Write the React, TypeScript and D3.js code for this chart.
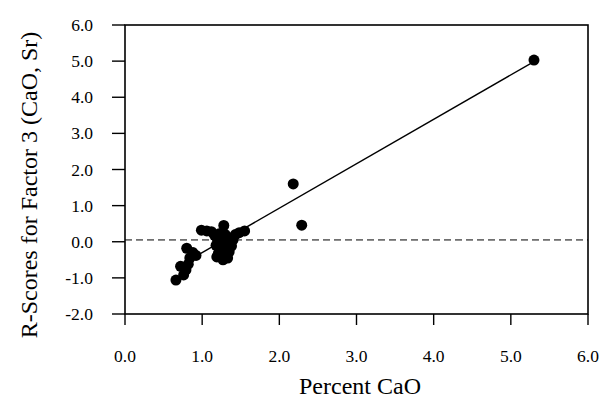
import React from "react";
import * as d3 from "d3";

const xTicks = [0, 1, 2, 3, 4, 5, 6];
const yTicks = [-2, -1, 0, 1, 2, 3, 4, 5, 6];
const cao = [
  5.3, 2.18, 2.29,
  0.66, 0.72, 0.76, 0.79, 0.82, 0.80, 0.84, 0.88, 0.92,
  0.99, 1.06, 1.12, 1.16, 1.18, 1.2, 1.21, 1.22, 1.24, 1.25, 1.26, 1.28, 1.29,
  1.3, 1.31, 1.33, 1.35, 1.36, 1.38, 1.4, 1.43, 1.48, 1.55, 1.27, 1.19, 1.34,
];
const rScore = [
  5.03, 1.6, 0.46,
  -1.06, -0.68, -0.92, -0.78, -0.62, -0.18, -0.45, -0.3, -0.38,
  0.32, 0.3, 0.28, 0.18, -0.1, 0.05, -0.32, 0.22, -0.22, 0.1, -0.05, 0.45, -0.38,
  0.2, -0.15, -0.45, -0.28, 0.0, -0.12, 0.05, 0.2, 0.25, 0.3, -0.5, -0.42, 0.1,
];
const fitIntercept = -1.53;
const fitSlope = 1.23;
const fitRange = [0.85, 5.3];
const refLevel = 0.05;

export default function App() {
  const W = 603, H = 402;
  const x = d3.scaleLinear().domain([0, 6]).range([125, 588]);
  const y = d3.scaleLinear().domain([-2, 6]).range([314, 25]);
  const font = "'Liberation Serif', 'Times New Roman', serif";
  const pts = cao.map((c, i) => [c, rScore[i]]);
  const line = d3.line<number>().x((d) => x(d)).y((d) => y(fitIntercept + fitSlope * d));
  return (
    <svg width={W} height={H} style={{ position: "absolute", left: 0, top: 0, background: "#fff" }}>
      <rect x={0} y={0} width={W} height={H} fill="#fff" />
      <rect x={x(0)} y={y(6)} width={x(6) - x(0)} height={y(-2) - y(6)} fill="none" stroke="#000" strokeWidth={1.6} />
      {yTicks.map((t) => (
        <g key={"y" + t}>
          <line x1={x(0) - 13} x2={x(0)} y1={y(t)} y2={y(t)} stroke="#000" strokeWidth={1.4} />
          <text x={93} y={y(t) + 6} textAnchor="end" fontFamily={font} fontSize={17.5}>{t.toFixed(1)}</text>
        </g>
      ))}
      {xTicks.map((t) => (
        <g key={"x" + t}>
          <line x1={x(t)} x2={x(t)} y1={y(-2)} y2={y(-2) + 11} stroke="#000" strokeWidth={1.4} />
          <text x={x(t)} y={362} textAnchor="middle" fontFamily={font} fontSize={17.5}>{t.toFixed(1)}</text>
        </g>
      ))}
      <line x1={x(0)} x2={x(6)} y1={y(refLevel)} y2={y(refLevel)} stroke="#000" strokeWidth={1} strokeDasharray="7,4" />
      <path d={line(fitRange) || ""} stroke="#000" strokeWidth={1.4} fill="none" />
      {pts.map((p, i) => (
        <circle key={i} cx={x(p[0])} cy={y(p[1])} r={5.5} fill="#000" />
      ))}
      <text x={360} y={394} textAnchor="middle" fontFamily={font} fontSize={24}>Percent CaO</text>
      <text transform={`translate(37,185) rotate(-90)`} textAnchor="middle" fontFamily={font} fontSize={24}>R-Scores for Factor 3 (CaO, Sr)</text>
    </svg>
  );
}
